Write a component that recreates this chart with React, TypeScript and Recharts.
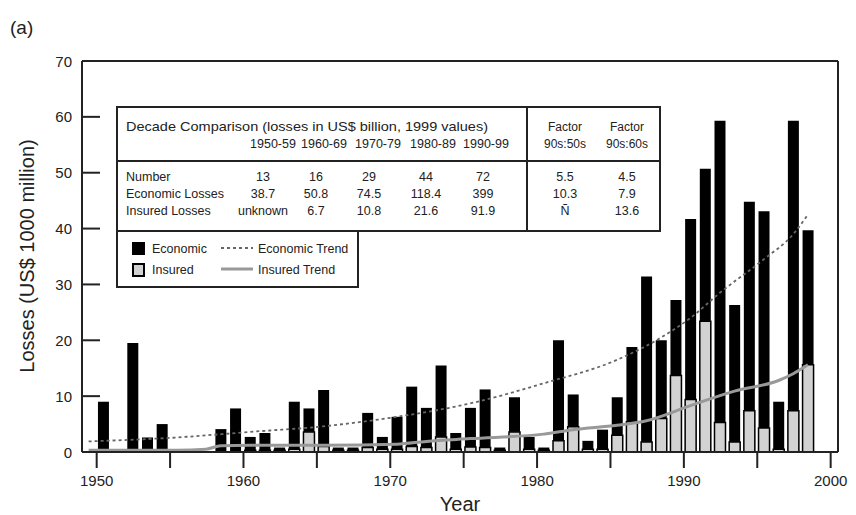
import React from 'react';
import { ComposedChart, Bar, Line, XAxis, YAxis, ReferenceLine } from 'recharts';

// ---- chart data ----
const years = [
  1950, 1951, 1952, 1953, 1954, 1955, 1956, 1957, 1958, 1959,
  1960, 1961, 1962, 1963, 1964, 1965, 1966, 1967, 1968, 1969,
  1970, 1971, 1972, 1973, 1974, 1975, 1976, 1977, 1978, 1979,
  1980, 1981, 1982, 1983, 1984, 1985, 1986, 1987, 1988, 1989,
  1990, 1991, 1992, 1993, 1994, 1995, 1996, 1997, 1998,
];
const economicLosses = [
  9.0, 0, 19.5, 2.6, 5.0, 0, 0, 0, 4.1, 7.8,
  2.7, 3.4, 0.8, 9.0, 7.8, 11.1, 0.8, 0.8, 7.0, 2.7,
  6.3, 11.7, 7.9, 15.5, 3.4, 7.9, 11.2, 0.8, 9.8, 2.7,
  0.8, 20.0, 10.3, 2.0, 4.0, 9.8, 18.8, 31.4, 20.0, 27.2,
  41.7, 50.7, 59.3, 26.3, 44.8, 43.1, 9.0, 59.3, 39.7,
];
const insuredLosses = [
  0, 0, 0, 0, 0, 0, 0, 0, 0, 0,
  0.3, 0.3, 0.3, 0.5, 3.6, 1.0, 0.3, 0.3, 0.8, 0.5,
  0.5, 1.0, 0.8, 2.7, 0.5, 0.9, 0.8, 0.3, 3.6, 0.5,
  0.3, 2.0, 4.5, 0.5, 0.5, 3.0, 5.4, 1.8, 6.0, 13.7,
  9.4, 23.4, 5.3, 1.8, 7.4, 4.3, 0.5, 7.4, 15.6,
];
const econTrendYears = [1949, 1955, 1960, 1965, 1970, 1975, 1980, 1985, 1988, 1990, 1992, 1995, 1997, 1998];
const econTrendValues = [1.9, 2.6, 3.6, 4.6, 6.3, 8.7, 12.3, 16.5, 20.5, 24.0, 28.5, 34.5, 39.0, 42.5];
const insTrendYears = [1949, 1955, 1957, 1958, 1960, 1965, 1970, 1972, 1975, 1980, 1982, 1985, 1987, 1990, 1993, 1996, 1997, 1998];
const insTrendValues = [0.3, 0.3, 0.5, 1.1, 1.2, 1.2, 1.4, 1.9, 2.4, 3.2, 4.0, 4.8, 5.6, 8.3, 10.9, 12.8, 14.0, 15.6];

const yTicks = [0, 10, 20, 30, 40, 50, 60, 70];
const xTicks = [1950, 1955, 1960, 1965, 1970, 1975, 1980, 1985, 1990, 1995, 2000];

// ---- decade comparison table ----
const tableTitle = 'Decade Comparison (losses in US$ billion, 1999 values)';
const decadeLabels = ['1950-59', '1960-69', '1970-79', '1980-89', '1990-99'];
const rowLabels = ['Number', 'Economic Losses', 'Insured Losses'];
const numberRow = ['13', '16', '29', '44', '72'];
const economicRow = ['38.7', '50.8', '74.5', '118.4', '399'];
const insuredRow = ['unknown', '6.7', '10.8', '21.6', '91.9'];
const factorHeaders = ['90s:50s', '90s:60s'];
const factorNumber = ['5.5', '4.5'];
const factorEconomic = ['10.3', '7.9'];
const factorInsured = ['Ñ', '13.6'];

// ---- build the table recharts needs ----
const BAR_OFFSET = 0.45;
const data: any[] = [];
for (let y = 1949; y <= 1999; y++) {
  const i = years.indexOf(y);
  const ei = econTrendYears.indexOf(y);
  const ii = insTrendYears.indexOf(y);
  data.push({
    x: y + BAR_OFFSET,
    econ: i >= 0 && economicLosses[i] > 0 ? economicLosses[i] : null,
    ins: i >= 0 && insuredLosses[i] > 0 ? insuredLosses[i] : null,
    econTrend: ei >= 0 ? econTrendValues[ei] : null,
    insTrend: ii >= 0 ? insTrendValues[ii] : null,
  });
}

const FONT = '"Liberation Sans", Arial, Helvetica, sans-serif';
const INK = '#222';

const LeftTick = (props: any) => {
  const { x, y, payload } = props;
  return (
    <g>
      <line x1={x} x2={x + 18} y1={y} y2={y} stroke={INK} strokeWidth={2} />
      <text x={x - 10} y={y} textAnchor="end" dominantBaseline="central" fontSize={15} fill={INK} fontFamily={FONT}>
        {payload.value}
      </text>
    </g>
  );
};

const RightTick = (props: any) => {
  const { x, y } = props;
  return <line x1={x - 18} x2={x} y1={y} y2={y} stroke={INK} strokeWidth={2} />;
};

const XTick = (props: any) => {
  const { x, y, payload } = props;
  const v = payload.value;
  if (v % 10 !== 0) return <g />;
  return (
    <text x={x} y={y} textAnchor="middle" dominantBaseline="hanging" fontSize={15} fill={INK} fontFamily={FONT}>
      {v}
    </text>
  );
};

const valueCols = [263, 316, 369, 426, 483];
const headerCols = [273, 324, 378, 433, 486];
const factorCols = [565, 627];
const rowYs = [177, 194, 211];

export default function App() {
  const rows = [numberRow, economicRow, insuredRow];
  const frows = [factorNumber, factorEconomic, factorInsured];
  return (
    <div style={{ position: 'absolute', left: 0, top: 0, width: 856, height: 515, background: '#fff' }}>
      <ComposedChart width={856} height={515} data={data} margin={{ top: 61, right: 17, bottom: 3, left: 42 }}>
        <XAxis
          xAxisId="main"
          type="number"
          dataKey="x"
          domain={[1949, 2000.5]}
          ticks={xTicks}
          interval={0}
          tick={<XTick />}
          tickSize={16}
          tickMargin={7}
          tickLine={{ stroke: INK, strokeWidth: 2 }}
          axisLine={{ stroke: INK, strokeWidth: 2 }}
          height={60}
          label={{ value: 'Year', position: 'insideBottom', offset: 1, fontSize: 20, fill: INK, fontFamily: FONT }}
        />
        <XAxis xAxisId="ins" orientation="top" height={0} type="number" dataKey="x" domain={[1949, 2000.5]} hide />
        <YAxis
          yAxisId="left"
          orientation="left"
          domain={[0, 70]}
          ticks={yTicks}
          interval={0}
          width={40}
          tickSize={0}
          tickMargin={0}
          tickLine={false}
          tick={<LeftTick />}
          axisLine={{ stroke: INK, strokeWidth: 2 }}
        />
        <YAxis
          yAxisId="right"
          orientation="right"
          domain={[0, 70]}
          ticks={yTicks}
          interval={0}
          width={1}
          tickSize={0}
          tickMargin={0}
          tickLine={false}
          tick={<RightTick />}
          axisLine={{ stroke: INK, strokeWidth: 2 }}
        />
        <ReferenceLine xAxisId="main" yAxisId="left" y={70} stroke={INK} strokeWidth={2} />
        <Bar xAxisId="main" yAxisId="left" dataKey="econ" fill="#000" barSize={11} isAnimationActive={false} />
        <Bar xAxisId="ins" yAxisId="left" dataKey="ins" fill="#d2d2d2" stroke="#000" strokeWidth={1.5} barSize={11} isAnimationActive={false} />
        <Line xAxisId="main" yAxisId="left" type="monotone" dataKey="econTrend" stroke="#666" strokeWidth={1.8} strokeDasharray="3 3" dot={false} connectNulls isAnimationActive={false} />
        <Line xAxisId="main" yAxisId="left" type="monotone" dataKey="insTrend" stroke="#999" strokeWidth={3} dot={false} connectNulls isAnimationActive={false} />
      </ComposedChart>

      <svg width={856} height={515} style={{ position: 'absolute', left: 0, top: 0, pointerEvents: 'none' }} fontFamily={FONT}>
        <text x={10} y={27} dominantBaseline="central" fontSize={19} fill={INK}>(a)</text>
        <text x={27} y={256} transform="rotate(-90 27 256)" textAnchor="middle" dominantBaseline="central" fontSize={20} fill={INK}>
          Losses (US$ 1000 million)
        </text>

        {/* decade comparison table */}
        <rect x={117} y={107} width={543} height={124} fill="#fff" stroke={INK} strokeWidth={2} />
        <line x1={117} x2={660} y1={161} y2={161} stroke={INK} strokeWidth={2} />
        <line x1={527} x2={527} y1={107} y2={231} stroke={INK} strokeWidth={2} />
        <text x={126} y={126} dominantBaseline="central" fontSize={13.5} fill={INK} textLength={362} lengthAdjust="spacingAndGlyphs">{tableTitle}</text>
        {decadeLabels.map((d, i) => (
          <text key={d} x={headerCols[i]} y={144} textAnchor="middle" dominantBaseline="central" fontSize={12.5} fill={INK}>{d}</text>
        ))}
        {factorHeaders.map((f, i) => (
          <g key={f}>
            <text x={factorCols[i]} y={127} textAnchor="middle" dominantBaseline="central" fontSize={12} fill={INK}>Factor</text>
            <text x={factorCols[i]} y={144} textAnchor="middle" dominantBaseline="central" fontSize={12} fill={INK}>{f}</text>
          </g>
        ))}
        {rowLabels.map((r, j) => (
          <g key={r}>
            <text x={126} y={rowYs[j]} dominantBaseline="central" fontSize={12.5} fill={INK}>{r}</text>
            {rows[j].map((v, i) => (
              <text key={i} x={valueCols[i]} y={rowYs[j]} textAnchor="middle" dominantBaseline="central" fontSize={12.5} fill={INK}>{v}</text>
            ))}
            {frows[j].map((v, i) => (
              <text key={'f' + i} x={factorCols[i]} y={rowYs[j]} textAnchor="middle" dominantBaseline="central" fontSize={12.5} fill={INK}>{v}</text>
            ))}
          </g>
        ))}

        {/* legend */}
        <rect x={117} y={231} width={241} height={56} fill="#fff" stroke={INK} strokeWidth={2} />
        <rect x={132} y={242} width={13} height={13} fill="#000" />
        <text x={152} y={249} dominantBaseline="central" fontSize={12.5} fill={INK}>Economic</text>
        <line x1={221} x2={253} y1={248} y2={248} stroke="#666" strokeWidth={2} strokeDasharray="3 3" />
        <text x={258} y={249} dominantBaseline="central" fontSize={12.5} fill={INK}>Economic Trend</text>
        <rect x={133} y={264} width={11} height={12} fill="#d2d2d2" stroke="#000" strokeWidth={2} />
        <text x={152} y={270} dominantBaseline="central" fontSize={12.5} fill={INK}>Insured</text>
        <line x1={221} x2={253} y1={269} y2={269} stroke="#999" strokeWidth={3} />
        <text x={258} y={270} dominantBaseline="central" fontSize={12.5} fill={INK}>Insured Trend</text>
      </svg>
    </div>
  );
}
